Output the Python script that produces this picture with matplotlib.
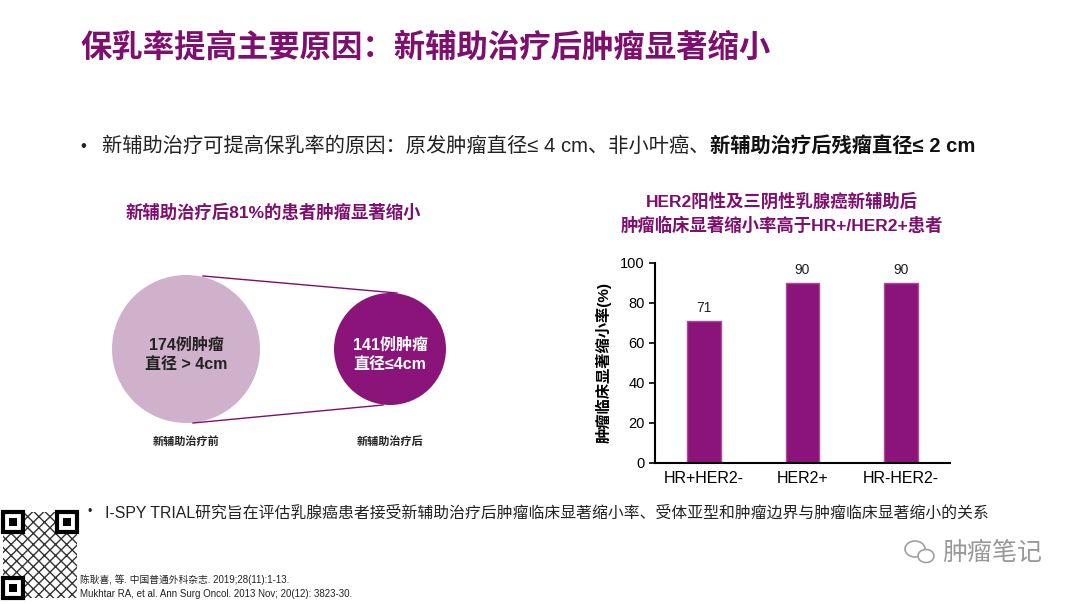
import matplotlib
matplotlib.use('Agg')
import matplotlib.pyplot as plt
import matplotlib.patches as patches

plt.rcParams['font.family'] = ['Liberation Sans', 'Noto Sans CJK SC', 'DejaVu Sans']

# data
categories = ['HR+HER2-', 'HER2+', 'HR-HER2-']
shrink_rate = [71, 90, 90]
y_ticks = [0, 20, 40, 60, 80, 100]

circle_counts = ['174例肿瘤\n直径 > 4cm', '141例肿瘤\n直径≤4cm']
circle_names = ['新辅助治疗前', '新辅助治疗后']

purple = '#7E0F6E'
bar_color = '#8A1479'
light = '#CFB1CB'

W, H = 1080, 604
fig = plt.figure(figsize=(W / 100, H / 100), dpi=100)
fig.patch.set_facecolor('white')

# full-figure overlay in pixel coords (y down)
bg = fig.add_axes([0, 0, 1, 1])
bg.set_xlim(0, W)
bg.set_ylim(H, 0)
bg.set_axis_off()

# title
bg.text(80, 48, '保乳率提高主要原因：新辅助治疗后肿瘤显著缩小', fontsize=22.6,
        fontweight='bold', color=purple, va='center', ha='left')

# bullet line
bg.text(80, 146, '•', fontsize=12, va='center', ha='left', color='#222222')
t1 = bg.text(102, 146, '新辅助治疗可提高保乳率的原因：原发肿瘤直径≤ 4 cm、非小叶癌、',
             fontsize=14.6, va='center', ha='left', color='#222222')
fig.canvas.draw()
bb = t1.get_window_extent()
x_end = bb.x1  # display px (same as pixel coords here)
bg.text(x_end, 146, '新辅助治疗后残瘤直径≤ 2 cm', fontsize=14.6, fontweight='bold',
        va='center', ha='left', color='#111111')

# left panel: circles
bg.text(273, 212, '新辅助治疗后81%的患者肿瘤显著缩小', fontsize=12.5,
        fontweight='bold', color=purple, ha='center', va='center')

c1 = (186, 349, 74)
c2 = (390, 349, 56)
bg.plot([203, 397], [276, 293], color=purple, lw=1)
bg.plot([193, 383], [423, 405], color=purple, lw=1)
bg.add_patch(patches.Circle((c1[0], c1[1]), c1[2], facecolor=light, edgecolor='none'))
bg.add_patch(patches.Circle((c2[0], c2[1]), c2[2], facecolor=bar_color, edgecolor='none'))
bg.text(c1[0], c1[1] + 6, circle_counts[0], fontsize=11.5, fontweight='bold',
        color='#222222', ha='center', va='center', linespacing=1.4)
bg.text(c2[0], c2[1] + 6, circle_counts[1], fontsize=11.5, fontweight='bold',
        color='white', ha='center', va='center', linespacing=1.4)
bg.text(c1[0], 441, circle_names[0], fontsize=8, fontweight='bold',
        color='#222222', ha='center', va='center')
bg.text(c2[0], 441, circle_names[1], fontsize=8, fontweight='bold',
        color='#222222', ha='center', va='center')

# right panel title
bg.text(782, 213, 'HER2阳性及三阴性乳腺癌新辅助后\n肿瘤临床显著缩小率高于HR+/HER2+患者',
        fontsize=12.5, fontweight='bold', color=purple, ha='center', va='center',
        linespacing=1.45)

# bottom bullet
bg.text(88, 512, '•', fontsize=9, va='center', ha='left', color='#222222')
bg.text(105, 513, 'I-SPY TRIAL研究旨在评估乳腺癌患者接受新辅助治疗后肿瘤临床显著缩小率、受体亚型和肿瘤边界与肿瘤临床显著缩小的关系',
        fontsize=11.4, va='center', ha='left', color='#222222')

# references
bg.text(80, 580, '陈耿喜, 等. 中国普通外科杂志. 2019;28(11):1-13.', fontsize=7,
        va='center', ha='left', color='#222222')
bg.text(80, 594, 'Mukhtar RA, et al. Ann Surg Oncol. 2013 Nov; 20(12): 3823-30.', fontsize=7,
        va='center', ha='left', color='#222222')

# qr-code placeholder (finder squares)
bg.add_patch(patches.Rectangle((3, 512), 74, 86, facecolor='white', edgecolor='#333333',
                               hatch='xxx', lw=0))
for fx, fy in [(3, 512), (57, 512), (3, 578)]:
    bg.add_patch(patches.Rectangle((fx, fy), 20, 20, facecolor='white', edgecolor='black', lw=3))
    bg.add_patch(patches.Rectangle((fx + 6, fy + 6), 8, 8, facecolor='black', edgecolor='none'))

# watermark
bg.add_patch(patches.Ellipse((915, 549), 20, 16, facecolor='none', edgecolor='#A0A0A0', lw=1.2))
bg.add_patch(patches.Ellipse((926, 556), 16, 13, facecolor='white', edgecolor='#A0A0A0', lw=1.2))
bg.text(942, 553, '肿瘤笔记', fontsize=18, color='#999999', va='center', ha='left')

# bar chart
ax = fig.add_axes([655 / W, 1 - 463 / H, 295 / W, 200 / H])
x = range(len(categories))
bars = ax.bar(x, shrink_rate, width=0.34, color=bar_color, edgecolor='#A84C9A', linewidth=1)
for xi, v in zip(x, shrink_rate):
    ax.text(xi, v + 3, str(v), ha='center', va='bottom', fontsize=10, color='#222222')
ax.set_xlim(-0.5, 2.5)
ax.set_ylim(0, 100)
ax.set_yticks(y_ticks)
ax.set_xticks(list(x))
ax.set_xticklabels(categories, fontsize=11.5)
ax.tick_params(axis='y', labelsize=10.5, length=4, width=1.2, direction='out')
ax.tick_params(axis='x', length=0, pad=6)
for s in ['top', 'right']:
    ax.spines[s].set_visible(False)
ax.spines['left'].set_linewidth(1.5)
ax.spines['bottom'].set_linewidth(1.5)
ax.set_ylabel('肿瘤临床显著缩小率(%)', fontsize=11, fontweight='bold', labelpad=6)
ax.patch.set_alpha(0)

fig.savefig('out.png', dpi=100, facecolor='white')
